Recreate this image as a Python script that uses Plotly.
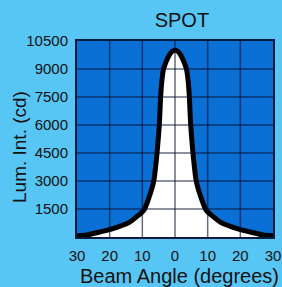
import plotly.graph_objects as go

angles = [-30, -27, -19.5, -14, -9.5, -8, -6.5, -5.5, -4.8, -4.4, -4.0, -3.5, -2.8, -2.2, -1.5, -0.8, 0,
          0.8, 1.5, 2.2, 2.8, 3.5, 4.0, 4.4, 4.8, 5.5, 6.5, 8, 9.5, 14, 19.5, 27, 30]
intensity = [70, 110, 420, 780, 1450, 2100, 3000, 4500, 6000, 7500, 8400, 9000, 9350, 9600, 9820, 9950, 10000,
             9950, 9820, 9600, 9350, 9000, 8400, 7500, 6000, 4500, 3000, 2100, 1450, 780, 420, 110, 70]

x_tickvals = [-30, -20, -10, 0, 10, 20, 30]
x_ticktext = ["30", "20", "10", "0", "10", "20", "30"]
y_tickvals = [1500, 3000, 4500, 6000, 7500, 9000, 10500]
y_ticktext = ["1500", "3000", "4500", "6000", "7500", "9000", "10500"]

BG = "#58C6F4"
PLOT = "#0B70D6"
FONT = "Liberation Sans, Arial, sans-serif"

fig = go.Figure()
fig.add_trace(go.Scatter(
    x=angles, y=intensity, mode="lines", line=dict(color="black", width=5, shape="spline", smoothing=0.5),
    fill="tozeroy", fillcolor="white", hoverinfo="skip", showlegend=False))

shapes = []
for v in x_tickvals[1:-1]:
    shapes.append(dict(type="line", xref="x", yref="y", x0=v, x1=v, y0=0, y1=10500,
                       line=dict(color="rgba(0,10,40,0.6)", width=1.5), layer="above"))
for v in y_tickvals[:-1]:
    shapes.append(dict(type="line", xref="x", yref="y", x0=-30, x1=30, y0=v, y1=v,
                       line=dict(color="rgba(0,10,40,0.6)", width=1.5), layer="above"))

fig.update_layout(
    width=282, height=287,
    margin=dict(l=77, r=9, t=41, b=50),
    paper_bgcolor=BG, plot_bgcolor=PLOT,
    font=dict(family=FONT, color="#111", size=15),
    title=dict(text="SPOT", x=0.645, xanchor="center", y=0.93, yanchor="middle",
               font=dict(size=20, family=FONT, color="#111")),
    shapes=shapes,
    annotations=[
        dict(text="Beam Angle (degrees)", xref="paper", yref="paper",
             x=1.04, xanchor="right", y=-0.2, yanchor="middle", showarrow=False,
             font=dict(size=20, family=FONT, color="#111")),
        dict(text="Lum. Int. (cd)", xref="paper", yref="paper", textangle=-90,
             x=-0.29, xanchor="center", y=0.46, yanchor="middle", showarrow=False,
             font=dict(size=19, family=FONT, color="#111")),
    ],
    xaxis=dict(range=[-30, 30], tickvals=x_tickvals, ticktext=x_ticktext, showgrid=False,
               zeroline=False, showline=True, linecolor="#0a1a3a", linewidth=2, mirror=True,
               ticks="", ticklabelstandoff=4, tickfont=dict(size=15), automargin=False),
    yaxis=dict(range=[0, 10500], tickvals=y_tickvals, ticktext=y_ticktext, showgrid=False, zeroline=False,
               showline=True, linecolor="#0a1a3a", linewidth=2, mirror=True, ticks="",
               ticklabelstandoff=4, tickfont=dict(size=15), automargin=False),
)

fig.write_html("out.html", config={"displayModeBar": False},
               post_script="document.body.style.margin='0';document.body.style.background='%s';" % BG)
